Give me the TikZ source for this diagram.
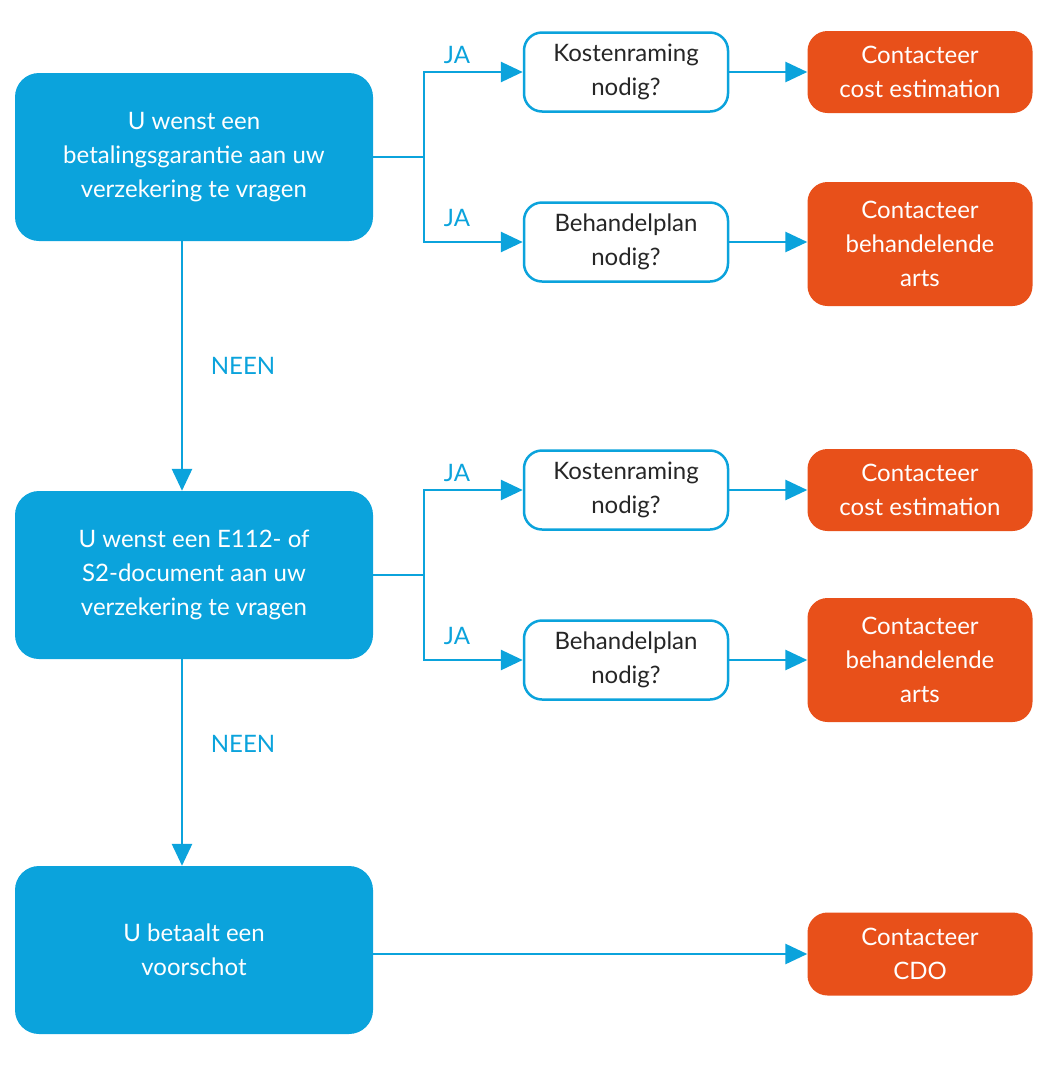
\documentclass[tikz,border=0pt]{standalone}
\usepackage{fontspec}
\setmainfont{Lato}
\usetikzlibrary{arrows.meta}
\definecolor{bl}{HTML}{0BA3DC}
\definecolor{og}{HTML}{E8501A}
\begin{document}
\begin{tikzpicture}[x=1pt,y=-1pt,
  every node/.style={font=\fontsize{24}{34}\selectfont, align=center},
  bbox/.style={fill=bl, text=white, rounded corners=24pt, minimum width=358pt, minimum height=168pt},
  wbox/.style={draw=bl, line width=2.5pt, fill=white, text=black!85, rounded corners=18pt, minimum width=204pt, minimum height=79pt},
  obox/.style={fill=og, text=white, rounded corners=20pt, minimum width=225pt},
  con/.style={draw=bl, line width=2.8pt, -{Triangle[length=22pt,width=20pt]}},
  lab/.style={text=bl}]
\useasboundingbox (0,0) rectangle (1056,1080);
\node[bbox] (b1) at (194,157) {U wenst een\\betalingsgarantie aan uw\\verzekering te vragen};
\node[bbox] (b2) at (194,575) {U wenst een E112- of\\S2-document aan uw\\verzekering te vragen};
\node[bbox] (b3) at (194,950) {U betaalt een\\voorschot};
\node[wbox] (k1) at (626,72) {Kostenraming\\nodig?};
\node[wbox] (p1) at (626,242) {Behandelplan\\nodig?};
\node[wbox] (k2) at (626,490) {Kostenraming\\nodig?};
\node[wbox] (p2) at (626,660) {Behandelplan\\nodig?};
\node[obox,minimum height=82pt] (o1) at (920,72) {Contacteer\\cost estimation};
\node[obox,minimum height=124pt] (o2) at (920,244) {Contacteer\\behandelende\\arts};
\node[obox,minimum height=82pt] (o3) at (920,490) {Contacteer\\cost estimation};
\node[obox,minimum height=124pt] (o4) at (920,660) {Contacteer\\behandelende\\arts};
\node[obox,minimum height=83pt] (o5) at (920,954) {Contacteer\\CDO};
\coordinate (j1) at (424,157);
\coordinate (j2) at (424,575);
\draw[draw=bl,line width=2.8pt] (b1.east) -- (j1);
\draw[con] (j1) |- (k1.west);
\draw[con] (j1) |- (p1.west);
\draw[draw=bl,line width=2.8pt] (b2.east) -- (j2);
\draw[con] (j2) |- (k2.west);
\draw[con] (j2) |- (p2.west);
\draw[con] (k1) -- (o1);
\draw[con] (p1) -- (o2.west |- p1);
\draw[con] (k2) -- (o3);
\draw[con] (p2) -- (o4);
\draw[con] (b3.east |- o5) -- (o5);
\draw[con] (b1.south -| 182,0) -- (b2.north -| 182,0);
\draw[con] (b2.south -| 182,0) -- (b3.north -| 182,0);
\node[lab] at (457,55) {JA};
\node[lab] at (457,218) {JA};
\node[lab] at (457,473) {JA};
\node[lab] at (457,636) {JA};
\node[lab] at (243,366) {NEEN};
\node[lab] at (243,744) {NEEN};
\end{tikzpicture}
\end{document}
